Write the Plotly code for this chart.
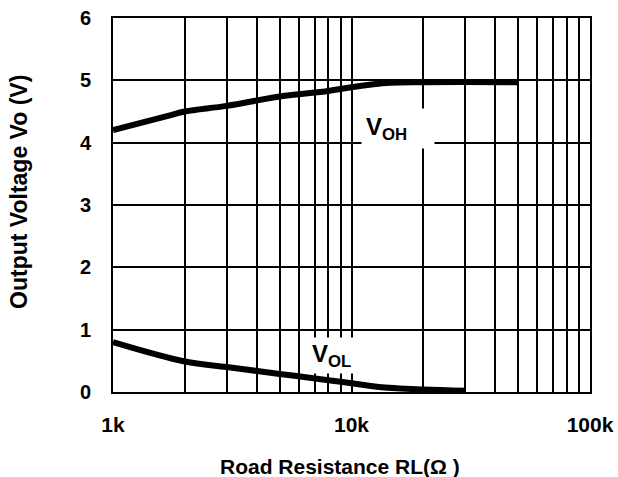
import plotly.graph_objects as go

# Data
rl_oh = [1000, 1700, 2000, 3000, 5000, 8000, 10000, 14500, 20000, 50000]
voh = [4.20, 4.43, 4.50, 4.59, 4.74, 4.83, 4.89, 4.96, 4.97, 4.97]

rl_ol = [1000, 2000, 3000, 5000, 8000, 10000, 13000, 20000, 30000]
vol = [0.80, 0.49, 0.40, 0.29, 0.19, 0.14, 0.08, 0.04, 0.02]

x_major = [1000, 10000, 100000]
x_major_text = ["1k", "10k", "100k"]
x_minor = [2000, 3000, 4000, 5000, 6000, 7000, 8000, 9000,
           20000, 30000, 40000, 50000, 60000, 70000, 80000, 90000]
y_ticks = [0, 1, 2, 3, 4, 5, 6]

x_title = "Road Resistance RL(Ω )"
y_title = "Output Voltage Vo (V)"

FONT = "Liberation Sans"

fig = go.Figure()
fig.add_trace(go.Scatter(x=rl_oh, y=voh, mode="lines", line=dict(color="black", width=6, shape="spline"),
                         showlegend=False, hoverinfo="skip"))
fig.add_trace(go.Scatter(x=rl_ol, y=vol, mode="lines", line=dict(color="black", width=6, shape="spline"),
                         showlegend=False, hoverinfo="skip"))

fig.add_annotation(x=4.195, y=4.22, xref="x", yref="y", text="<b>V<sub>OH</sub></b>",
                   showarrow=False, bgcolor="white", font=dict(family=FONT, size=24, color="black"),
                   borderpad=4, width=64, align="left")
fig.add_annotation(x=3.94, y=0.59, xref="x", yref="y", text="<b>V<sub>OL</sub></b>",
                   showarrow=False, bgcolor="white", font=dict(family=FONT, size=24, color="black"),
                   borderpad=2, width=50, align="left")

# Axis titles placed as annotations
fig.add_annotation(x=0.476, y=-0.198, xref="paper", yref="paper", text=f"<b>{x_title}</b>",
                   showarrow=False, xanchor="center", yanchor="middle",
                   font=dict(family=FONT, size=21, color="black"))
fig.add_annotation(x=-0.197, y=0.535, xref="paper", yref="paper", text=f"<b>{y_title}</b>",
                   showarrow=False, xanchor="center", yanchor="middle", textangle=-90,
                   font=dict(family=FONT, size=23, color="black"))

fig.update_layout(
    width=618, height=477,
    margin=dict(l=113, r=28, t=18, b=85, autoexpand=False),
    paper_bgcolor="white", plot_bgcolor="white",
    font=dict(family=FONT, color="black"),
    xaxis=dict(
        type="log", range=[3, 5], automargin=False,
        tickmode="array", tickvals=x_major, ticktext=[f"<b>{t}</b>" for t in x_major_text],
        tickfont=dict(family=FONT, size=21, color="black"),
        showgrid=True, gridcolor="black", gridwidth=2,
        minor=dict(tickmode="array", tickvals=x_minor, showgrid=True, gridcolor="black", gridwidth=1.6, ticks=""),
        ticks="outside", ticklen=13, tickcolor="rgba(0,0,0,0)",
        showline=True, linecolor="black", linewidth=2, mirror=True,
        zeroline=False,
    ),
    yaxis=dict(
        range=[0, 6], automargin=False,
        tickmode="array", tickvals=y_ticks, ticktext=[f"<b>{v}</b>" for v in y_ticks],
        tickfont=dict(family=FONT, size=20, color="black"),
        showgrid=True, gridcolor="black", gridwidth=2,
        ticks="outside", ticklen=16, tickcolor="rgba(0,0,0,0)",
        showline=True, linecolor="black", linewidth=2, mirror=True,
        zeroline=False,
    ),
)

fig.write_html("out.html", config={"displayModeBar": False},
               post_script="document.body.style.margin='0';document.body.style.overflow='hidden';")
